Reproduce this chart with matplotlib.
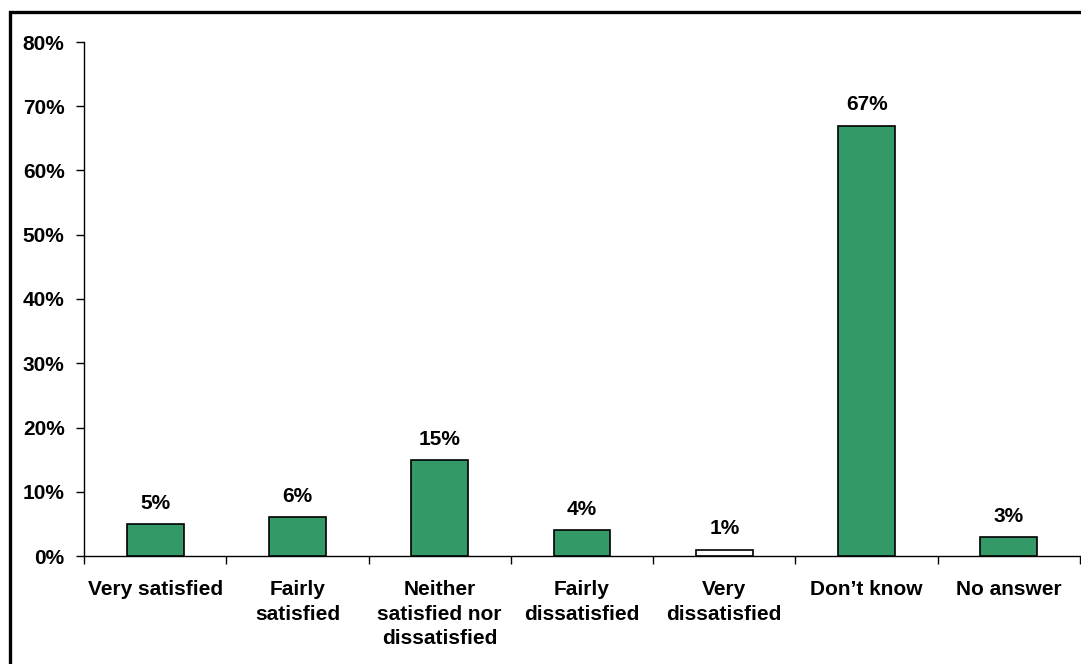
import matplotlib
matplotlib.use("Agg")
import matplotlib.pyplot as plt
from matplotlib.patches import Rectangle
import numpy as np

categories = ["Very satisfied", "Fairly\nsatisfied", "Neither\nsatisfied nor\ndissatisfied",
              "Fairly\ndissatisfied", "Very\ndissatisfied", "Don\u2019t know", "No answer"]
values = [5, 6, 15, 4, 1, 67, 3]
bar_colors = ["#339966", "#339966", "#339966", "#339966", "#ffffff", "#339966", "#339966"]
yticks = [0, 10, 20, 30, 40, 50, 60, 70, 80]

plt.rcParams['font.family'] = ['Liberation Sans', 'DejaVu Sans']
plt.rcParams['font.weight'] = 'bold'

FS = 15

W, H = 1081, 664
fig = plt.figure(figsize=(W / 100, H / 100), dpi=100)
ax = fig.add_axes([84 / W, 1 - 556 / H, (1080 - 84) / W, (556 - 42) / H])

x = np.arange(len(categories))
bars = ax.bar(x, values, width=0.4, color=bar_colors, edgecolor="black", linewidth=1.2, zorder=3)

for xi, v in zip(x, values):
    ax.annotate(f"{v}%", (xi, v), xytext=(0, 8), textcoords="offset points",
                ha="center", va="bottom", fontsize=FS, fontweight="bold")

ax.set_xlim(-0.5, len(categories) - 0.5)
ax.set_ylim(0, 80)
ax.set_yticks(yticks)
ax.set_yticklabels([f"{t}%" for t in yticks], fontsize=FS, fontweight="bold")

ax.set_xticks(np.arange(len(categories) + 1) - 0.5)
ax.set_xticklabels([])
ax.set_xticks(x, minor=True)
ax.set_xticklabels(categories, minor=True, fontsize=FS, fontweight="bold", linespacing=1.35)
ax.tick_params(axis="x", which="minor", length=0, pad=17.5)
ax.tick_params(axis="x", which="major", length=6, width=1, direction="out")
ax.tick_params(axis="y", length=6, width=1, direction="out", pad=8)

for s in ["top", "right"]:
    ax.spines[s].set_visible(False)
for s in ["left", "bottom"]:
    ax.spines[s].set_linewidth(1.0)
    ax.spines[s].set_color("black")
for t in ax.xaxis.get_major_ticks():
    t.tick1line.set_clip_on(False)

border = Rectangle((9.5 / W, -0.1), 1.2, 1 - 11.5 / H + 0.1, transform=fig.transFigure,
                   fill=False, edgecolor="black", linewidth=2.4, clip_on=False)
fig.patches.append(border)

fig.savefig("out.png", dpi=100, facecolor="white")
